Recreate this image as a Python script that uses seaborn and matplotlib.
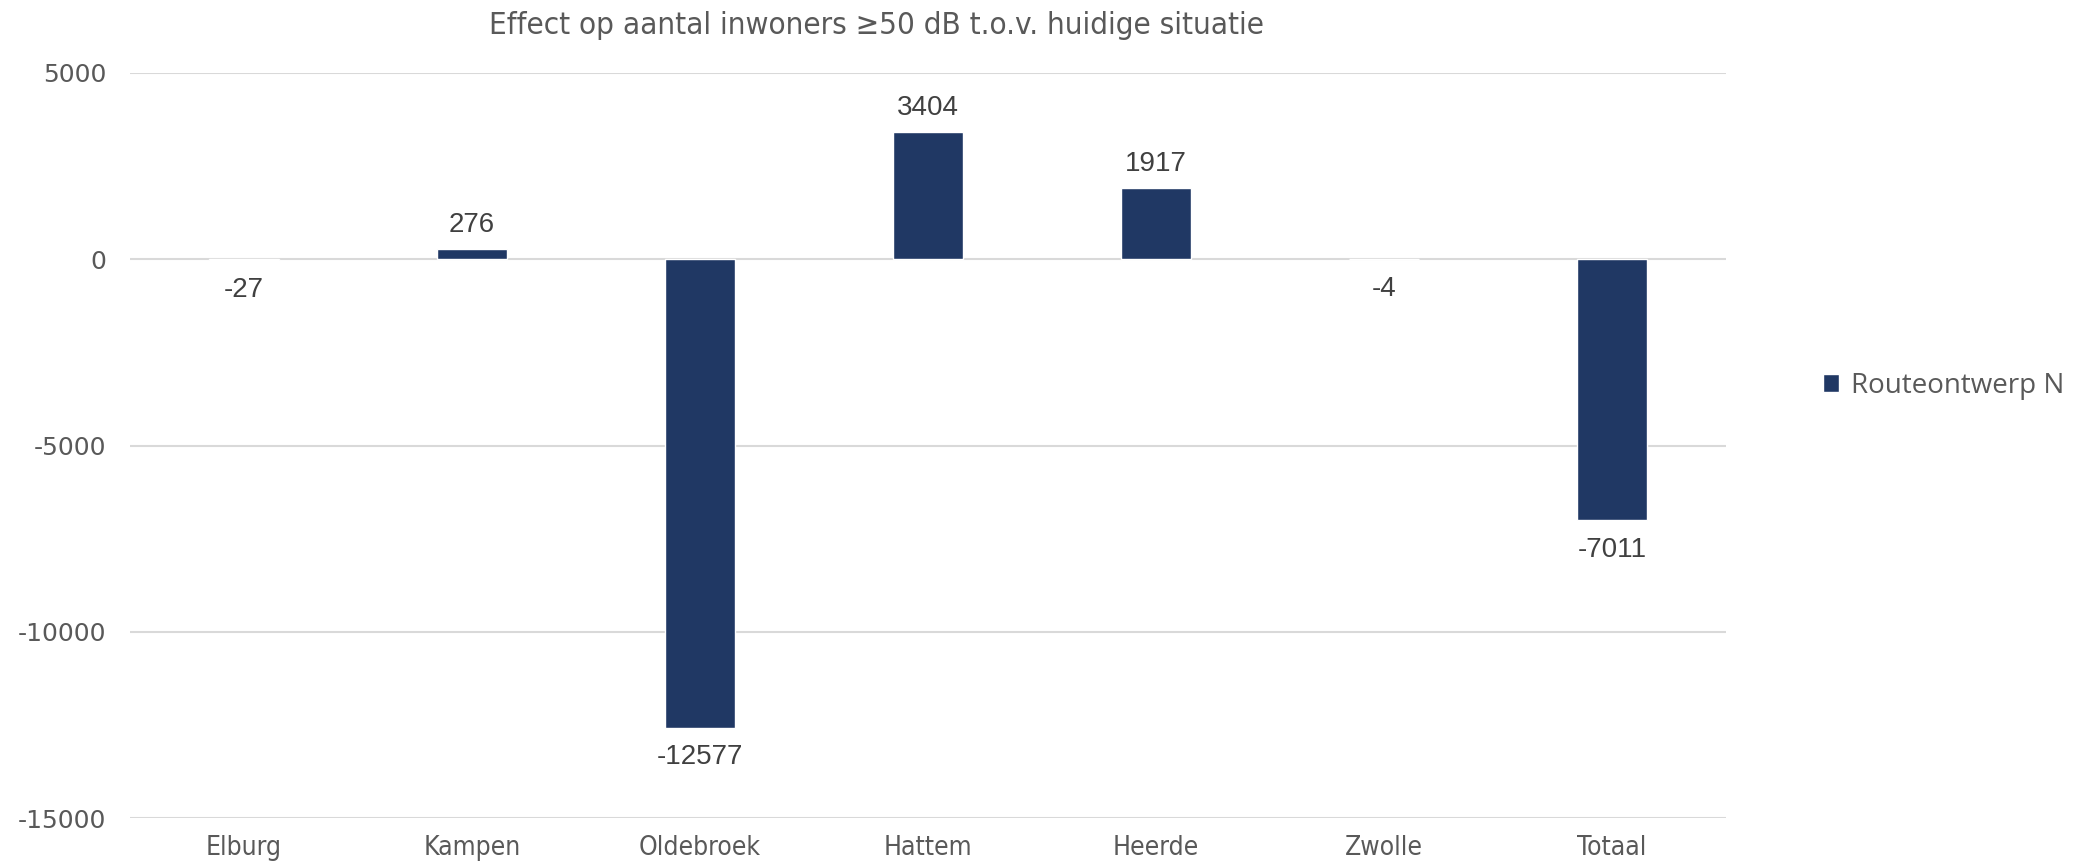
import matplotlib
matplotlib.use("Agg")
import matplotlib.pyplot as plt
import seaborn as sns
import pandas as pd

# data
gemeenten = ["Elburg", "Kampen", "Oldebroek", "Hattem", "Heerde", "Zwolle", "Totaal"]
effect = [-27, 276, -12577, 3404, 1917, -4, -7011]
serie = "Routeontwerp N"
y_ticks = [5000, 0, -5000, -10000, -15000]

df = pd.DataFrame({"gemeente": gemeenten, "effect": effect})

sns.set_style("white")
plt.rcParams["font.family"] = ["DejaVu Sans"]
plt.rcParams["axes.unicode_minus"] = False

fig = plt.figure(figsize=(20.83, 8.68), dpi=100)
ax = fig.add_axes([0.0624, 0.0576, 0.7662, 0.8583])

sns.barplot(data=df, x="gemeente", y="effect", color="#203864", saturation=1,
            width=0.31, label=serie, ax=ax, zorder=3)

ax.set_ylim(-15000, 5000)
ax.set_xlim(-0.5, 6.5)
ax.set_yticks(y_ticks)
ax.yaxis.grid(True, color="#d9d9d9", linewidth=1.5, zorder=0)
ax.set_axisbelow(True)
for s in ax.spines.values():
    s.set_visible(False)
ax.tick_params(axis="both", length=0, colors="#595959")
ax.tick_params(axis="y", pad=17, labelsize=18)
ax.tick_params(axis="x", pad=12)
for lab in ax.get_xticklabels():
    lab.set_fontsize(19)
    lab.set_fontstretch("condensed")
ax.set_xlabel("")
ax.set_ylabel("")

# labels bij de balken
for i, v in enumerate(effect):
    off = 8 if v > 0 else -12
    va = "bottom" if v > 0 else "top"
    ax.annotate(str(v), (i, v if v > 0 else min(v, 0)), xytext=(0, off),
                textcoords="offset points", ha="center", va=va,
                fontsize=20, color="#404040", family="Liberation Sans")

ax.set_title("Effect op aantal inwoners \u226550 dB t.o.v. huidige situatie",
             fontsize=22.5, color="#595959", pad=28, fontstretch="condensed",
             x=0.468)

leg = ax.legend(loc="center left", bbox_to_anchor=(1.045, 0.58), frameon=False,
                handlelength=0.6, handleheight=0.6, handletextpad=0.4,
                prop={"family": "Open Sans", "size": 20})
for t in leg.get_texts():
    t.set_color("#595959")

fig.savefig("out.png", dpi=100)
